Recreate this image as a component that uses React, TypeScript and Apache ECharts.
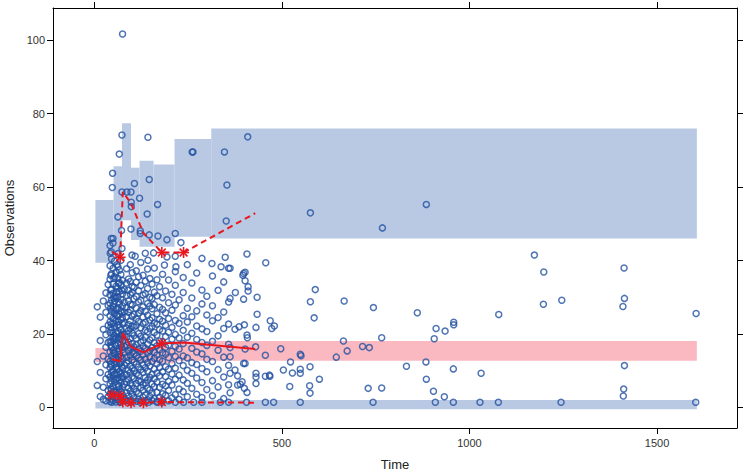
import React, { useEffect, useRef } from "react";
import * as echarts from "echarts";

// ---- VPC bins ----
const binEdges = [3, 51.4, 73.8, 97.8, 120.7, 158, 214, 311.7, 1606];
const upperLo = [39.4, 41.5, 51.0, 45.6, 43.8, 43.8, 46.5, 46.0];
const upperHi = [56.5, 65.7, 77.4, 65.3, 67.2, 66.2, 73.1, 76.0];
const medLo = [12.4, 12.0, 12.5, 12.3, 12.2, 12.0, 12.7, 12.7];
const medHi = [16.2, 16.5, 17.5, 16.8, 16.5, 16.3, 18.0, 18.1];
const lowLo = [-0.3, -0.3, -0.4, -0.4, -0.5, -0.4, -0.5, -0.5];
const lowHi = [1.5, 1.6, 1.7, 1.6, 1.8, 1.8, 1.9, 2.0];

const binMid = [47, 69, 76, 98, 131, 180, 238, 429];
const obsMedian = [13.1, 12.6, 20.2, 16.5, 15.0, 17.4, 17.7, 15.9];
const obsUpper = [42.4, 40.9, 58.7, 55.6, 47.5, 42.2, 42.2, 52.9];
const obsLower = [3.4, 3.1, 1.5, 1.25, 1.25, 1.5, 1.4, 1.3];
const starsMedian = [5];
const starsUpper = [1, 5, 6];
const starsLower = [0, 1, 2, 3, 4, 5];

const xTicks = [0, 500, 1000, 1500];
const yTicks = [0, 20, 40, 60, 80, 100];

// ---- observations ----
const lowRowTimes = [47, 69, 96, 123, 145, 167, 180, 216, 238, 265, 287, 336, 358, 406, 456, 478, 549, 743, 909, 957, 1028, 1077, 1244, 1603];
const lowRowValue = 1.4;

// dense early columns: [time, ...observations]
const denseColumns: number[][] = [
  [8, 27.4, 12.5, 6.0],
  [16, 3.0, 9.5, 18.2, 24.6],
  [24, 5.5, 14.0, 21.3, 29.0, 2.2],
  [31, 1.8, 7.8, 11.6, 16.4, 19.8, 25.9, 31.2],
  [37, 2.9, 4.6, 9.0, 13.2, 17.7, 22.4, 27.8, 33.5],
  [42, 1.6, 3.7, 6.4, 8.3, 10.9, 12.6, 15.1, 18.0, 20.4, 23.3, 25.0, 28.4, 30.7, 34.9, 38.6, 44.1],
  [44, 5.2, 11.9, 16.9, 21.8, 27.1, 32.0, 36.0],
  [46, 2.4, 4.9, 7.2, 9.6, 11.4, 14.0, 16.3, 17.9, 21.1, 22.8, 26.1, 29.3, 32.2, 36.4, 40.5],
  [50, 1.9, 3.2, 5.8, 8.8, 10.1, 13.1, 15.6, 19.0, 20.2, 24.3, 27.5, 31.1, 33.7, 37.9, 46.0],
  [52, 4.4, 7.9, 14.9, 18.4, 23.0, 26.7, 29.8, 35.1],
  [54, 2.7, 6.9, 9.1, 12.0, 14.7, 17.2, 19.5, 22.0, 25.6, 28.9, 30.3, 35.6, 39.8],
  [58, 1.5, 4.2, 7.6, 11.0, 13.6, 16.8, 18.9, 23.7, 26.8, 29.8, 33.0, 36.9],
  [60, 3.0, 9.2, 12.2, 20.1, 25.0, 31.4, 38.9],
  [63, 2.2, 3.9, 6.1, 8.0, 10.4, 12.9, 15.2, 17.5, 20.7, 22.5, 24.9, 27.1, 30.1, 32.5, 35.2, 38.3, 41.9],
  [65, 5.7, 13.9, 18.7, 23.4, 28.7, 33.8],
  [67, 1.7, 5.0, 7.4, 9.8, 11.9, 14.4, 16.0, 19.3, 21.8, 25.4, 28.2, 31.6, 34.0, 37.4],
  [71, 2.9, 4.4, 6.8, 9.3, 12.3, 13.9, 17.0, 18.6, 21.1, 23.9, 26.3, 29.4, 33.3, 36.2, 40.1],
  [73, 8.1, 11.1, 16.4, 19.7, 25.8, 31.9],
  [75, 1.8, 3.5, 5.6, 8.5, 10.7, 13.3, 15.8, 18.2, 20.0, 22.9, 24.4, 27.7, 30.9, 34.6],
  [80, 2.5, 6.3, 9.0, 11.5, 14.9, 16.6, 19.9, 23.1, 26.0, 28.6, 32.1],
  [86, 1.9, 4.0, 7.0, 8.9, 12.1, 13.7, 16.9, 19.1, 21.6, 24.7, 27.2, 30.5, 33.9, 37.8],
  [91, 3.1, 5.3, 7.7, 10.2, 12.7, 15.4, 17.8, 20.9, 22.6, 25.9, 29.0, 31.9, 35.0],
  [96, 2.0, 4.5, 6.6, 9.5, 11.2, 14.2, 16.2, 18.7, 21.4, 23.6, 26.6, 28.1, 30.8, 34.3, 38.9],
  [101, 1.6, 3.6, 6.0, 8.4, 10.6, 13.0, 15.0, 17.4, 20.3, 22.2, 24.8, 27.9, 31.3, 33.0, 36.7],
  [106, 2.6, 5.1, 7.9, 10.0, 12.4, 14.6, 16.5, 19.6, 21.9, 25.3, 29.6, 32.7],
  [112, 1.7, 4.3, 6.5, 9.2, 11.8, 14.1, 17.1, 18.8, 22.3, 24.2, 27.0, 30.2, 34.1, 37.2],
  [118, 2.3, 3.8, 7.3, 8.7, 11.0, 13.5, 15.9, 20.1, 23.4, 25.7, 28.8, 31.8, 35.6],
  [124, 1.8, 5.4, 7.0, 10.3, 12.9, 15.3, 17.7, 19.4, 21.7, 26.4, 29.2, 33.2, 39.5],
  [130, 2.8, 4.7, 6.2, 9.6, 11.6, 14.4, 16.7, 18.3, 22.8, 24.6, 27.4, 30.6, 36.0],
  [136, 1.6, 3.4, 6.7, 8.1, 10.8, 13.2, 16.1, 19.2, 21.0, 23.2, 26.2, 31.0, 34.4],
  [142, 2.1, 5.2, 7.5, 9.9, 12.2, 14.8, 17.3, 20.6, 25.1, 28.3, 32.4, 37.7],
  [148, 3.0, 4.8, 8.2, 11.3, 13.8, 15.5, 18.4, 21.5, 23.8, 27.6, 30.0, 35.1],
  [154, 1.9, 3.9, 6.4, 9.0, 12.5, 16.3, 19.0, 22.1, 24.4, 26.9, 29.7, 33.6],
  [160, 2.4, 5.7, 7.8, 10.5, 13.4, 15.0, 17.6, 20.4, 23.0, 28.0, 31.4, 38.0],
  [167, 1.7, 4.1, 6.9, 9.4, 11.9, 14.3, 16.8, 19.7, 22.7, 25.5, 30.4, 34.8],
  [174, 2.8, 5.5, 8.6, 10.9, 13.0, 15.7, 18.1, 21.2, 24.0, 27.3, 32.9],
  [182, 2.0, 3.7, 6.3, 9.7, 12.6, 14.9, 17.9, 20.8, 23.5, 26.7, 29.9, 36.3],
  [190, 3.3, 5.9, 8.4, 11.1, 14.5, 16.4, 19.3, 22.4, 25.8, 31.7],
  [198, 1.8, 4.6, 7.1, 10.4, 13.6, 17.0, 20.5, 24.2, 28.5, 34.7],
  [207, 2.6, 6.1, 9.1, 12.0, 15.3, 18.6, 21.8, 26.5, 30.8],
  [216, 3.5, 7.7, 10.7, 13.9, 16.6, 19.9, 23.7, 27.9, 33.3, 37.0],
  [226, 2.2, 5.0, 8.8, 12.8, 15.9, 18.9, 22.9, 29.3],
  [237, 4.3, 7.5, 11.4, 14.0, 17.4, 21.0, 25.0, 31.3, 35.4],
  [248, 2.9, 6.6, 10.1, 13.5, 19.1, 23.3, 27.0, 38.9],
  [260, 5.2, 9.3, 12.2, 16.1, 20.2, 24.7, 29.8, 33.9],
  [273, 3.6, 8.0, 11.7, 15.1, 18.5, 22.2, 26.3, 36.6],
  [287, 2.7, 6.8, 10.6, 14.6, 17.7, 21.4, 28.2, 32.0],
  [300, 4.9, 9.7, 13.1, 16.9, 20.7, 25.2, 30.3],
  [315, 3.2, 7.3, 12.5, 18.0, 23.6, 27.7, 35.8],
  [330, 5.6, 10.3, 15.6, 19.5, 24.5, 31.9],
  [345, 2.4, 8.3, 13.7, 21.5, 26.0, 34.2],
  [358, 6.2, 11.5, 17.2, 22.7, 28.7],
];

const sparsePts = [
  [407, 41.8], [457, 39.4], [362, 37.9], [398, 36.5], [402, 36.8], [396, 36.0], [402, 34.5], [410, 32.9], [410, 31.7],
  [376, 31.3], [362, 29.7], [398, 29.5], [434, 30.0], [589, 32.1], [576, 28.8], [586, 24.4], [666, 29.0], [744, 27.2],
  [861, 25.8], [434, 25.4], [469, 23.6], [473, 21.5], [480, 22.2], [375, 21.3], [386, 22.0], [400, 22.5], [431, 21.8],
  [407, 19.7], [408, 19.0], [911, 21.5], [935, 20.8], [906, 18.7], [958, 23.2], [958, 22.5], [1078, 25.3], [1173, 41.5],
  [1198, 36.9], [1412, 38.0], [1197, 28.1], [1246, 29.2], [1413, 29.7], [1409, 27.5], [1604, 25.6], [576, 53.0],
  [885, 55.3], [768, 48.9], [766, 19.0], [664, 18.1], [674, 15.4], [715, 16.6], [733, 16.3], [645, 13.7], [549, 14.5],
  [549, 10.4], [549, 9.3], [575, 11.1], [600, 7.7], [574, 5.9], [575, 3.9], [832, 11.2], [884, 12.4], [885, 7.7],
  [957, 10.5], [1031, 9.3], [730, 5.2], [766, 5.3], [904, 4.4], [933, 2.9], [1413, 11.4], [1411, 5.0], [1410, 3.1],
  [497, 16.0], [362, 16.3], [402, 15.9], [430, 16.5], [456, 14.2], [551, 14.1], [362, 13.8], [398, 12.0], [402, 12.0],
  [523, 12.4], [362, 9.3], [375, 10.2], [431, 9.3], [431, 8.3], [431, 6.5], [456, 8.5], [467, 8.8], [468, 8.5],
  [504, 10.2], [528, 9.4], [382, 8.6], [382, 6.1], [389, 6.3], [394, 7.0], [400, 5.2], [407, 4.1], [362, 4.0], [521, 5.7]
];

const upperPts = [
  [75.4, 101.7], [73.8, 74.2], [143, 73.6], [66.6, 69.0], [48.8, 63.8], [48, 59.9], [73.8, 58.7], [87, 58.7], [97.8, 58.7],
  [107, 61.0], [146.5, 62.1], [98.6, 55.9], [98.6, 54.7], [120.7, 57.0], [168.7, 55.3], [141, 52.7], [63, 51.9],
  [72.7, 48.2], [97.8, 48.6], [122.6, 48.1], [122.6, 47.4], [146.5, 47.0], [169.7, 46.7], [193.7, 45.7], [215.8, 47.4],
  [45.3, 46.0], [49.8, 44.8], [231, 44.9], [261, 69.6], [263, 69.6], [347, 69.6], [409, 73.7], [353.6, 60.6], [351.7, 50.8],
  [45.3, 42.4], [73.8, 43.3], [42.6, 42.0], [100.5, 41.5], [109, 41.2], [136, 42.0], [158, 42.1], [193.7, 41.0],
  [215.8, 41.2], [143, 40.1], [287, 40.6], [313.6, 39.2], [349, 40.9], [187, 38.8], [217.6, 38.3], [338, 38.3], [358, 37.9]
];

const BLUE_BAND = "#B9C9E4";
const PINK_BAND = "#FAB8C0";
const POINT = "#2251A0";
const RED = "#E8161E";

function bandData(lo: number[], hi: number[]) {
  return lo.map((l, i) => [binEdges[i], binEdges[i + 1], l, hi[i]]);
}

function bandSeries(lo: number[], hi: number[], color: string) {
  return {
    type: "custom",
    silent: true,
    z: 1,
    clip: true,
    encode: { x: [0, 1], y: [2, 3] },
    data: bandData(lo, hi),
    renderItem: (params: any, api: any) => {
      const p0 = api.coord([api.value(0), api.value(3)]);
      const p1 = api.coord([api.value(1), api.value(2)]);
      return {
        type: "rect",
        shape: { x: p0[0], y: p0[1], width: p1[0] - p0[0], height: p1[1] - p0[1] },
        style: { fill: color },
      };
    },
  };
}

function starSeries(idx: number[], values: number[]) {
  return {
    type: "custom",
    silent: true,
    z: 6,
    encode: { x: 0, y: 1 },
    data: idx.map((i) => [binMid[i], values[i]]),
    renderItem: (params: any, api: any) => {
      const p = api.coord([api.value(0), api.value(1)]);
      const r = 5.5;
      const d = r * 0.7071;
      const segs = [
        [p[0] - r, p[1], p[0] + r, p[1]],
        [p[0], p[1] - r, p[0], p[1] + r],
        [p[0] - d, p[1] - d, p[0] + d, p[1] + d],
        [p[0] - d, p[1] + d, p[0] + d, p[1] - d],
      ];
      return {
        type: "group",
        children: segs.map((s) => ({
          type: "line",
          shape: { x1: s[0], y1: s[1], x2: s[2], y2: s[3] },
          style: { stroke: RED, lineWidth: 1.6 },
        })),
      };
    },
  };
}

function lineSeries(values: number[], dashed: boolean) {
  return {
    type: "line",
    silent: true,
    z: 5,
    symbol: "none",
    data: binMid.map((x, i) => [x, values[i]]),
    lineStyle: { color: RED, width: 2, type: dashed ? [6, 4] : "solid" },
  };
}

export default function App() {
  const ref = useRef<HTMLDivElement>(null);

  useEffect(() => {
    document.body.style.margin = "0";
    if (!ref.current) return;
    const chart = echarts.init(ref.current, undefined, { renderer: "svg" });

    const densePts: number[][] = [];
    denseColumns.forEach((col) => {
      for (let k = 1; k < col.length; k++) densePts.push([col[0], col[k]]);
    });

    const points = [
      ...densePts,
      ...sparsePts, ...upperPts, ...lowRowTimes.map((t) => [t, lowRowValue]),
    ];

    const axisLine = { show: true, onZero: false, lineStyle: { color: "#000", width: 1 } };
    const font = "Liberation Sans, Arial, sans-serif";

    chart.setOption({
      animation: false,
      grid: { left: 53, right: 10, top: 8, bottom: 44, containLabel: false, outerBoundsMode: "none" },
      xAxis: [
        {
          type: "value",
          min: -110,
          max: 1713,
          position: "bottom",
          axisLine,
          axisTick: { show: true, length: 6, customValues: xTicks, lineStyle: { color: "#000" } },
          axisLabel: { customValues: xTicks, color: "#333", fontSize: 11, margin: 9, fontFamily: font, formatter: (v: number) => String(v) },
          splitLine: { show: false },
          name: "Time",
          nameLocation: "middle",
          nameGap: 30,
          nameTextStyle: { color: "#222", fontSize: 13, fontFamily: font },
        },
        {
          type: "value",
          min: -110,
          max: 1713,
          position: "top",
          axisLine,
          axisTick: { show: true, length: 6, customValues: xTicks, lineStyle: { color: "#000" } },
          axisLabel: { show: false },
          splitLine: { show: false },
        },
      ],
      yAxis: [
        {
          type: "value",
          min: -5.6,
          max: 108.8,
          position: "left",
          axisLine,
          axisTick: { show: true, length: 6, customValues: yTicks, lineStyle: { color: "#000" } },
          axisLabel: { customValues: yTicks, color: "#333", fontSize: 11, margin: 8, fontFamily: font, formatter: (v: number) => String(v) },
          splitLine: { show: false },
          name: "Observations",
          nameLocation: "middle",
          nameGap: 30,
          nameTextStyle: { color: "#222", fontSize: 13, fontFamily: font },
        },
        {
          type: "value",
          min: -5.6,
          max: 108.8,
          position: "right",
          axisLine,
          axisTick: { show: true, length: 6, customValues: yTicks, lineStyle: { color: "#000" } },
          axisLabel: { show: false },
          splitLine: { show: false },
        },
      ],
      series: [
        bandSeries(upperLo, upperHi, BLUE_BAND),
        bandSeries(medLo, medHi, PINK_BAND),
        bandSeries(lowLo, lowHi, BLUE_BAND),
        {
          type: "scatter",
          silent: true,
          z: 3,
          symbol: "circle",
          symbolSize: 6,
          large: false,
          progressive: 0,
          data: points,
          itemStyle: { color: "rgba(0,0,0,0)", borderColor: POINT, borderWidth: 1.5 },
        },
        lineSeries(obsMedian, false),
        lineSeries(obsUpper, true),
        lineSeries(obsLower, true),
        starSeries(starsMedian, obsMedian),
        starSeries(starsUpper, obsUpper),
        starSeries(starsLower, obsLower),
      ],
    });

    return () => chart.dispose();
  }, []);

  return <div ref={ref} style={{ width: 747, height: 472 }} />;
}
